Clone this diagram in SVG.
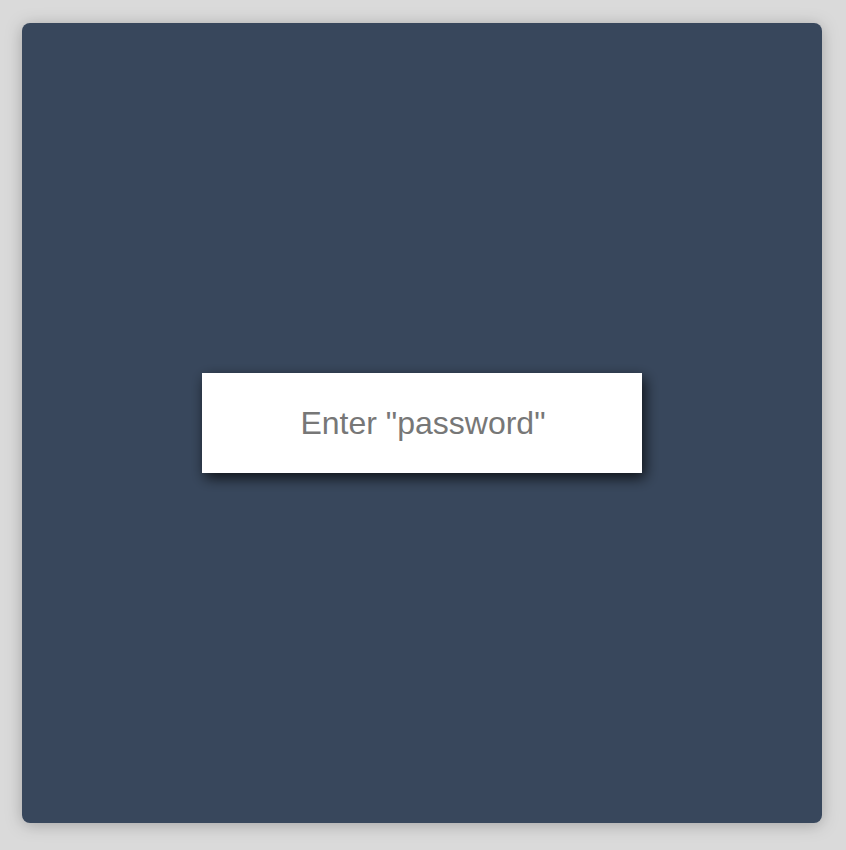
<svg xmlns="http://www.w3.org/2000/svg" width="846" height="850" viewBox="0 0 846 850">
  <defs>
    <filter id="panelShadow" x="-10%" y="-10%" width="120%" height="120%">
      <feDropShadow dx="0" dy="2" stdDeviation="8" flood-color="#000" flood-opacity="0.25"/>
    </filter>
    <filter id="boxShadow" x="-20%" y="-60%" width="140%" height="220%">
      <feDropShadow dx="3" dy="5" stdDeviation="7" flood-color="#000" flood-opacity="0.75"/>
    </filter>
  </defs>
  <style>
    .label { font-family: "Liberation Sans", Arial, sans-serif; font-size: 32px; fill: #777777; }
  </style>
  <rect width="846" height="850" fill="#dadada"/>
  <g id="panel">
    <rect x="22" y="23" width="800" height="800" rx="8" ry="8" fill="#37475c" filter="url(#panelShadow)"/>
  </g>
  <g id="password-box">
    <rect x="202" y="373" width="440" height="100" fill="#ffffff" filter="url(#boxShadow)"/>
    <text class="label" x="423" y="434" text-anchor="middle">Enter "password"</text>
  </g>
  <g id="connectors"></g>
</svg>
